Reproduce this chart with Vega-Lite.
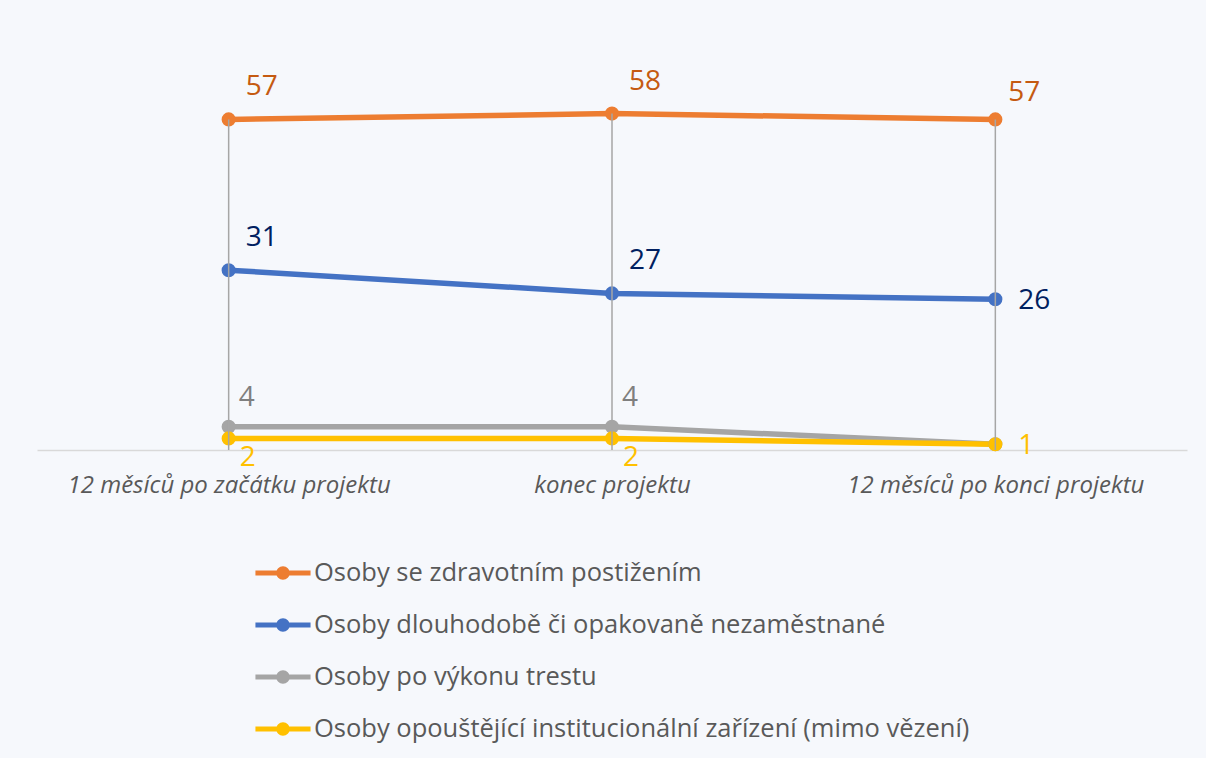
{
  "$schema": "https://vega.github.io/schema/vega-lite/v6.json",
  "width": 1150,
  "height": 406,
  "padding": {"left": 37, "top": 44, "right": 19, "bottom": 20},
  "background": "#F6F8FC",
  "config": {"view": {"stroke": null}, "font": "Open Sans"},
  "data": {
    "values": [
      {"series": "Osoby se zdravotním postižením", "period": "12 měsíců po začátku projektu", "value": 57},
      {"series": "Osoby se zdravotním postižením", "period": "konec projektu", "value": 58},
      {"series": "Osoby se zdravotním postižením", "period": "12 měsíců po konci projektu", "value": 57},
      {"series": "Osoby dlouhodobě či opakovaně nezaměstnané", "period": "12 měsíců po začátku projektu", "value": 31},
      {"series": "Osoby dlouhodobě či opakovaně nezaměstnané", "period": "konec projektu", "value": 27},
      {"series": "Osoby dlouhodobě či opakovaně nezaměstnané", "period": "12 měsíců po konci projektu", "value": 26},
      {"series": "Osoby po výkonu trestu", "period": "12 měsíců po začátku projektu", "value": 4},
      {"series": "Osoby po výkonu trestu", "period": "konec projektu", "value": 4},
      {"series": "Osoby po výkonu trestu", "period": "12 měsíců po konci projektu", "value": 1},
      {"series": "Osoby opouštějící institucionální zařízení (mimo vězení)", "period": "12 měsíců po začátku projektu", "value": 2},
      {"series": "Osoby opouštějící institucionální zařízení (mimo vězení)", "period": "konec projektu", "value": 2},
      {"series": "Osoby opouštějící institucionální zařízení (mimo vězení)", "period": "12 měsíců po konci projektu", "value": 1}
    ]
  },
  "encoding": {
    "x": {
      "field": "period",
      "type": "nominal",
      "sort": ["12 měsíců po začátku projektu", "konec projektu", "12 měsíců po konci projektu"],
      "scale": {"type": "point", "padding": 0.5},
      "axis": {
        "title": null,
        "domainColor": "#D9D9D9",
        "domainWidth": 1.5,
        "ticks": false,
        "grid": false,
        "labelFont": "Open Sans",
        "labelFontSize": 24,
        "labelFontStyle": "italic",
        "labelColor": "#595959",
        "labelPadding": 23,
        "labelAngle": 0,
        "labelLimit": 600
      }
    },
    "y": {
      "field": "value",
      "type": "quantitative",
      "scale": {"domain": [0, 70]},
      "axis": null
    }
  },
  "layer": [
    {
      "mark": {"type": "line", "strokeWidth": 5.5},
      "encoding": {
        "color": {
          "field": "series",
          "type": "nominal",
          "sort": null,
          "scale": {
            "domain": ["Osoby se zdravotním postižením", "Osoby dlouhodobě či opakovaně nezaměstnané", "Osoby po výkonu trestu", "Osoby opouštějící institucionální zařízení (mimo vězení)"],
            "range": ["#ED7D31", "#4472C4", "#A5A5A5", "#FFC000"]
          },
          "legend": {
            "title": null,
            "orient": "none",
            "legendX": 220,
            "legendY": 503,
            "direction": "vertical",
            "symbolType": "M-1.06,-0.1H1.06V0.1H-1.06Z M-0.26,0A0.26,0.26 0 1,1 0.26,0A0.26,0.26 0 1,1 -0.26,0Z",
            "symbolSize": 2704,
            "symbolStrokeWidth": 0,
            "symbolOpacity": 1,
            "labelFont": "Open Sans",
            "labelFontSize": 25.5,
            "labelColor": "#595959",
            "labelOffset": 5,
            "labelLimit": 1000,
            "rowPadding": 12,
            "encode": {
              "symbols": {
                "update": {
                  "fill": {"scale": "color", "field": "value"},
                  "stroke": {"value": "transparent"},
                  "strokeWidth": {"value": 0},
                  "opacity": {"value": 1}
                }
              }
            }
          }
        }
      }
    },
    {
      "mark": {"type": "point", "filled": true, "size": 200, "opacity": 1},
      "encoding": {
        "color": {"field": "series", "type": "nominal", "sort": null}
      }
    },
    {
      "transform": [{"filter": "datum.series === 'Osoby se zdravotním postižením'"}],
      "mark": {"type": "rule", "color": "#A6A6A6", "strokeWidth": 1.5},
      "encoding": {"y2": {"datum": 0}}
    },
    {
      "transform": [{"filter": "datum.period !== '12 měsíců po konci projektu' && (datum.series === 'Osoby se zdravotním postižením' || datum.series === 'Osoby dlouhodobě či opakovaně nezaměstnané')"}],
      "mark": {"type": "text", "fontSize": 28, "font": "Open Sans", "dx": 33, "dy": -32, "align": "center", "baseline": "middle"},
      "encoding": {
        "text": {"field": "value"},
        "fill": {
          "field": "series", "type": "nominal",
          "scale": {
            "domain": ["Osoby se zdravotním postižením", "Osoby dlouhodobě či opakovaně nezaměstnané", "Osoby po výkonu trestu", "Osoby opouštějící institucionální zařízení (mimo vězení)"],
            "range": ["#C55A11", "#002060", "#7F7F7F", "#FFC000"]
          },
          "legend": null
        }
      }
    },
    {
      "transform": [{"filter": "datum.period !== '12 měsíců po konci projektu' && datum.series === 'Osoby po výkonu trestu'"}],
      "mark": {"type": "text", "fontSize": 28, "font": "Open Sans", "dx": 18, "dy": -29, "align": "center", "baseline": "middle"},
      "encoding": {
        "text": {"field": "value"},
        "fill": {"field": "series", "type": "nominal", "legend": null}
      }
    },
    {
      "transform": [{"filter": "datum.period === '12 měsíců po konci projektu' && datum.series === 'Osoby se zdravotním postižením'"}],
      "mark": {"type": "text", "fontSize": 28, "font": "Open Sans", "dx": 29, "dy": -26, "align": "center", "baseline": "middle"},
      "encoding": {
        "text": {"field": "value"},
        "fill": {"field": "series", "type": "nominal", "legend": null}
      }
    },
    {
      "transform": [{"filter": "datum.period === '12 měsíců po konci projektu' && (datum.series === 'Osoby dlouhodobě či opakovaně nezaměstnané' || datum.series === 'Osoby opouštějící institucionální zařízení (mimo vězení)')"}],
      "mark": {"type": "text", "fontSize": 28, "font": "Open Sans", "dx": 23, "dy": 2, "align": "left", "baseline": "middle"},
      "encoding": {
        "text": {"field": "value"},
        "fill": {"field": "series", "type": "nominal", "legend": null}
      }
    },
    {
      "transform": [{"filter": "datum.period !== '12 měsíců po konci projektu' && datum.series === 'Osoby opouštějící institucionální zařízení (mimo vězení)'"}],
      "mark": {"type": "text", "fontSize": 28, "font": "Open Sans", "dx": 19, "dy": 20, "align": "center", "baseline": "middle"},
      "encoding": {
        "text": {"field": "value"},
        "fill": {"field": "series", "type": "nominal", "legend": null}
      }
    }
  ]
}
